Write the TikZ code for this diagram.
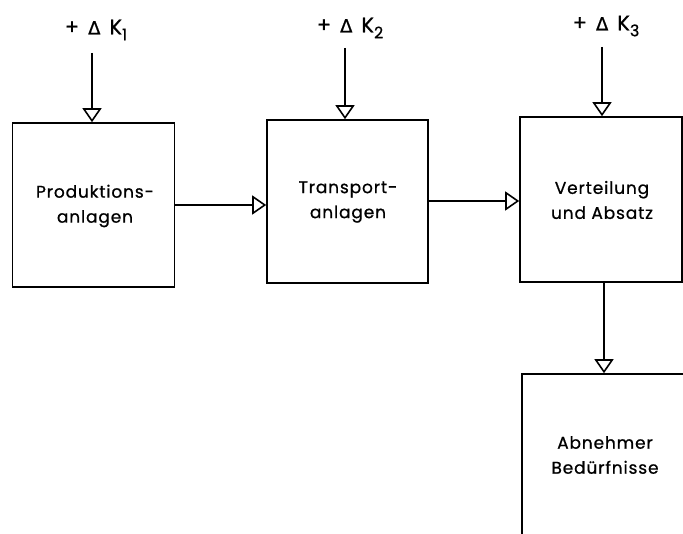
\documentclass[tikz,border=0pt]{standalone}
\usepackage{fontspec}
\setmainfont[LetterSpace=5, FakeBold=0.8]{Poppins}
\newfontfamily\symfont[FakeBold=0.8]{DejaVu Sans}
\usetikzlibrary{arrows.meta}
\tikzset{
  box/.style={draw, line width=1.6pt, minimum width=#1, inner sep=0pt},
  boxtext/.style={align=center, font=\fontsize{17}{25}\selectfont, inner sep=0pt},
  klabel/.style={font=\fontsize{21}{22}\selectfont, inner sep=0pt},
  arr/.style={line width=1.6pt, -{Triangle[open, width=19pt, length=14pt, line width=1.6pt]}},
}
\newcommand{\dk}[1]{+\hspace{9pt}{\symfont\fontsize{18}{18}\selectfont Δ}\hspace{9pt}K\raisebox{-6pt}{\fontsize{16}{16}\selectfont #1}}
\begin{document}
\begin{tikzpicture}[x=1pt, y=-1pt]
\useasboundingbox (0,0) rectangle (683,534);
\clip (0,0) rectangle (683,534);
% boxes
\node[box=162pt, minimum height=164pt] (b1) at (93.5,205) {};
\node[box=161pt, minimum height=163pt] (b2) at (347.5,201.5) {};
\node[box=162pt, minimum height=165pt] (b3) at (601,199.5) {};
\node[box=166pt, minimum height=176pt] (b4) at (605,462) {};
% box texts
\node[boxtext] (t1) at (95,206) {Produktions-\\anlagen};
\node[boxtext] (t2) at (348,202) {Transport-\\anlagen};
\node[boxtext] (t3) at (602,200) {Verteilung\\und Absatz};
\node[boxtext] (t4) at (605,455) {Abnehmer\\Bedürfnisse};
% K labels
\node[klabel] (k1) at (96,30) {\dk{1}};
\node[klabel] (k2) at (350,28) {\dk{2}};
\node[klabel] (k3) at (606,26) {\dk{3}};
\coordinate (s1) at (92,53);
\coordinate (s2) at (345,48);
\coordinate (s3) at (602,47);
\draw[arr] (s1) -- (s1 |- b1.north);
\draw[arr] (s2) -- (s2 |- b2.north);
\draw[arr] (s3) -- (s3 |- b3.north);
% horizontal connectors
\coordinate (h1) at (0,205);
\coordinate (h2) at (0,201);
\draw[arr] (b1.east |- h1) -- (b2.west |- h1);
\draw[arr] (b2.east |- h2) -- (b3.west |- h2);
\coordinate (v3) at (604,0);
\draw[arr] (b3.south -| v3) -- (b4.north -| v3);
\end{tikzpicture}
\end{document}
